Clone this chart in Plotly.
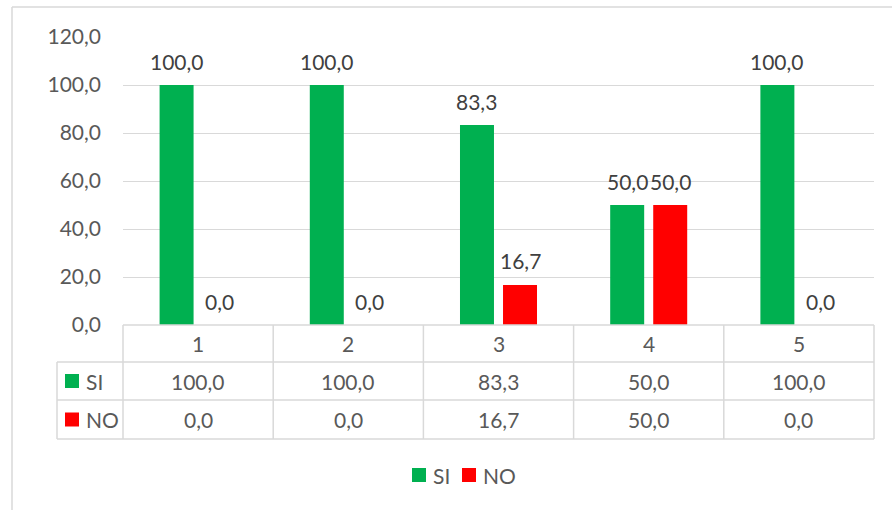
import plotly.graph_objects as go

# Data
categories = [1, 2, 3, 4, 5]
series_names = ["SI", "NO"]
si_values = [100.0, 100.0, 83.3, 50.0, 100.0]
no_values = [0.0, 0.0, 16.7, 50.0, 0.0]
y_ticks = [0, 20, 40, 60, 80, 100, 120]

GREEN = "#00B050"
RED = "#FF0000"
GRID = "#D9D9D9"
TICK_TXT = "#595959"
LABEL_TXT = "#404040"
FONT = "Lato"
FS = 21

W, H = 892, 510
L, R, T, B = 123, 18, 37, 185
PW, PH = W - L - R, H - T - B
BARGAP, BARGROUPGAP = 0.427, 0.21


def fmt(v):
    return f"{v:.1f}".replace(".", ",")


def px(xp):
    return (xp - L) / PW


def py(yp):
    return (H - B - yp) / PH


fig = go.Figure()
series = [(series_names[0], si_values, GREEN), (series_names[1], no_values, RED)]
for name, vals, col in series:
    fig.add_trace(go.Bar(x=categories, y=vals, name=name, marker_color=col,
                         marker_line_width=0, showlegend=False))

annotations = []
shapes = []


def label(x, y, text, font, xanchor="center", xref="paper", yref="paper", yshift=0):
    annotations.append(dict(x=x, y=y, xref=xref, yref=yref, text=text, showarrow=False,
                            xanchor=xanchor, yanchor="middle", yshift=yshift, font=font))


# value labels above each bar
offset = (1 - BARGAP) / 4
value_font = dict(family=FONT, size=FS, color=LABEL_TXT)
for k, (name, vals, col) in enumerate(series):
    sign = -1 if k == 0 else 1
    for c, v in zip(categories, vals):
        label(c + sign * offset, v, fmt(v), value_font, xref="x", yref="y", yshift=24)

# data table under the plot
row_edges = [325, 362, 400, 439]
key_left = 57
line_style = dict(color=GRID, width=1.5)
n = len(categories)
# horizontal rules
shapes.append(dict(type="line", xref="paper", yref="paper", x0=0, x1=1,
                   y0=py(row_edges[0]), y1=py(row_edges[0]), line=line_style))
for ye in row_edges[1:]:
    shapes.append(dict(type="line", xref="paper", yref="paper", x0=px(key_left), x1=1,
                       y0=py(ye), y1=py(ye), line=line_style))
# vertical rules
for i in range(n + 1):
    shapes.append(dict(type="line", xref="paper", yref="paper", x0=i / n, x1=i / n,
                       y0=py(row_edges[0]), y1=py(row_edges[-1]), line=line_style))
shapes.append(dict(type="line", xref="paper", yref="paper", x0=px(key_left), x1=px(key_left),
                   y0=py(row_edges[1]), y1=py(row_edges[-1]), line=line_style))

cell_font = dict(family=FONT, size=FS, color=TICK_TXT)
for i, c in enumerate(categories):
    label((i + 0.5) / n, py((row_edges[0] + row_edges[1]) / 2), str(c), cell_font)
for r, (name, vals, col) in enumerate(series):
    y_mid = (row_edges[r + 1] + row_edges[r + 2]) / 2
    for i, v in enumerate(vals):
        label((i + 0.5) / n, py(y_mid), fmt(v), cell_font)
    # legend key inside the table
    shapes.append(dict(type="rect", xref="paper", yref="paper", x0=px(65), x1=px(79),
                       y0=py(y_mid - 7), y1=py(y_mid + 7), fillcolor=col, line_width=0))
    label(px(84), py(y_mid), name, cell_font, xanchor="left")

# legend at the bottom
leg_y = 475
leg_items = [(412, series[0]), (462, series[1])]
for x0, (name, vals, col) in leg_items:
    shapes.append(dict(type="rect", xref="paper", yref="paper", x0=px(x0), x1=px(x0 + 14),
                       y0=py(leg_y - 7), y1=py(leg_y + 7), fillcolor=col, line_width=0))
    label(px(x0 + 19), py(leg_y), name, cell_font, xanchor="left")

# chart area border (top and left edges)
shapes.append(dict(type="line", xref="paper", yref="paper", x0=px(12), x1=px(W + 5),
                   y0=py(7), y1=py(7), line=dict(color=GRID, width=1.5)))
shapes.append(dict(type="line", xref="paper", yref="paper", x0=px(12), x1=px(12),
                   y0=py(7), y1=py(H + 5), line=dict(color=GRID, width=1.5)))

fig.update_layout(
    width=W, height=H,
    margin=dict(l=L, r=R, t=T, b=B, pad=0),
    paper_bgcolor="white", plot_bgcolor="white",
    barmode="group", bargap=BARGAP, bargroupgap=BARGROUPGAP,
    separators=",.",
    font=dict(family=FONT, size=FS, color=TICK_TXT),
    xaxis=dict(range=[0.5, 5.5], showticklabels=False, showgrid=False, zeroline=False,
               showline=False, ticks=""),
    yaxis=dict(range=[0, 120], tickvals=y_ticks, tickformat=".1f", showgrid=True,
               gridcolor=GRID, gridwidth=1, zeroline=False, showline=False, ticks="",
               ticklabelstandoff=21, tickfont=dict(family=FONT, size=FS, color=TICK_TXT)),
    annotations=annotations,
    shapes=shapes,
)

fig.write_html("out.html")
